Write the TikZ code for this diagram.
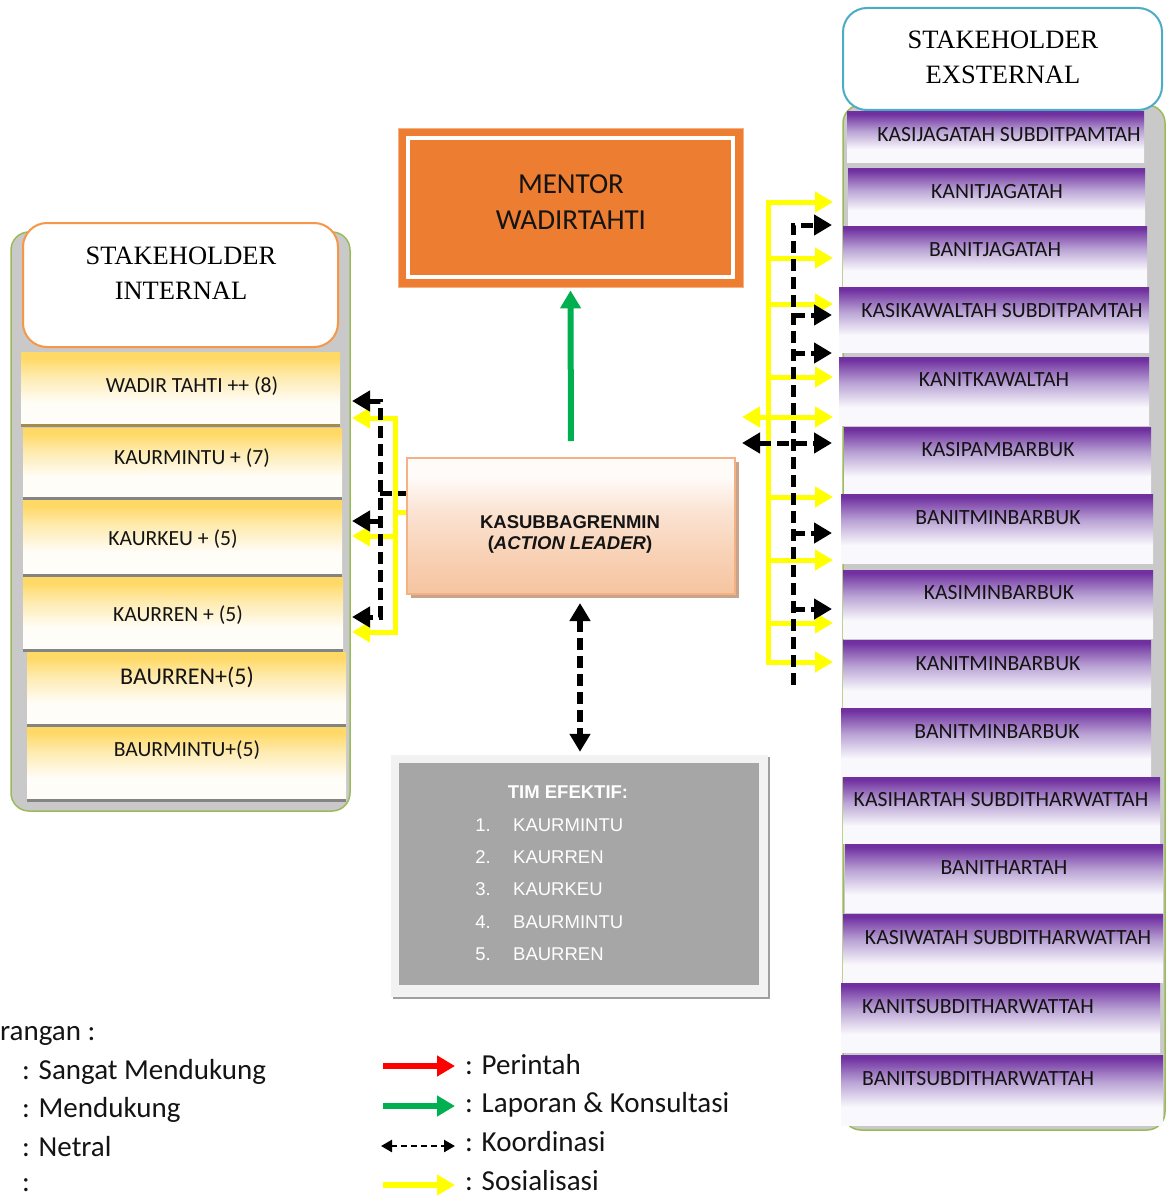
\documentclass[tikz,border=0pt]{standalone}
\usepackage{fontspec}
\setmainfont{Carlito}
\newfontfamily\serifhd{Liberation Serif}
\newfontfamily\arialf{Liberation Sans}
\usetikzlibrary{arrows.meta,fit,shadows}

\definecolor{panelgray}{HTML}{C9C9C9}
\definecolor{panelgreen}{HTML}{9BBB59}
\definecolor{hdorange}{HTML}{F79646}
\definecolor{hdblue}{HTML}{4BACC6}
\definecolor{goldtop}{HTML}{FFD966}
\definecolor{goldmid}{HTML}{FEEBB0}
\definecolor{goldbot}{HTML}{FFFDF8}
\definecolor{purtop}{HTML}{7030A0}
\definecolor{purmid}{HTML}{B9A2D4}
\definecolor{purbot}{HTML}{F9F8FC}
\definecolor{mentorc}{HTML}{ED7D31}
\definecolor{peachbot}{HTML}{F6C4A0}
\definecolor{peachlow}{HTML}{F8D2B6}
\definecolor{peachmid}{HTML}{FBE4D4}
\definecolor{peachtop}{HTML}{FFFBF9}
\definecolor{peachline}{HTML}{F4B183}
\definecolor{peachshadow}{HTML}{C9A48C}
\definecolor{timgray}{HTML}{A6A6A6}
\definecolor{timframe}{HTML}{F2F2F2}
\definecolor{arrgreen}{HTML}{00B050}
\definecolor{arryellow}{HTML}{FFFF00}
\definecolor{arrred}{HTML}{FF0000}
\definecolor{sepgray}{HTML}{848484}
\definecolor{sepbrown}{HTML}{A68B4A}
\definecolor{lbltext}{HTML}{141414}

\pgfdeclareverticalshading{goldfade}{100bp}{color(0bp)=(goldbot); color(25bp)=(goldbot); color(40bp)=(goldbot); color(58bp)=(goldmid); color(71bp)=(goldtop); color(100bp)=(goldtop)}
\pgfdeclareverticalshading{purplefade}{100bp}{color(0bp)=(purbot); color(25bp)=(purbot); color(38bp)=(purbot); color(56bp)=(purmid); color(73bp)=(purtop); color(100bp)=(purtop)}
\pgfdeclareverticalshading{peachfade}{100bp}{color(0bp)=(peachbot); color(25bp)=(peachbot); color(40bp)=(peachlow); color(56bp)=(peachmid); color(68bp)=(peachtop); color(100bp)=(peachtop)}

\begin{document}
\begin{tikzpicture}[x=1pt,y=-1pt,
  >={Triangle[length=18pt,width=20pt]},
  panelbox/.style={draw=panelgreen, fill=panelgray, line width=1.5pt, rounded corners=18pt, inner sep=0pt},
  hdbox/.style={fill=white, line width=2pt, rounded corners=24pt, inner sep=0pt},
  hdtext/.style={font=\serifhd\fontsize{26.5}{34.5}\selectfont, align=center, inner sep=0pt},
  goldbox/.style={shade, shading=goldfade, inner sep=0pt, draw=none},
  purbox/.style={shade, shading=purplefade, inner sep=0pt, draw=none},
  boxlbl/.style={inner sep=0pt, text=lbltext},
  yline/.style={draw=arryellow, line width=5pt},
  kline/.style={draw=black, line width=5pt, dash pattern=on 12pt off 6pt},
  legtxt/.style={font=\fontsize{29}{34}\selectfont, anchor=west, inner sep=0pt, text height=18.3pt, text depth=0pt, text=lbltext},
  timtxt/.style={font=\arialf\fontsize{18.5}{22}\selectfont, inner sep=0pt, text=white, text height=12.7pt, text depth=0pt}
]
\useasboundingbox (0,0) rectangle (1172,1196);
\fill[white] (0,0) rectangle (1172,1196);

% ---------------- left panel (internal) ----------------
\node[panelbox, fit={(11,232) (350,811)}] (LP) {};
\node[hdbox, draw=hdorange, fit={(23,223) (338,347)}] (LH) {};
\node[hdtext] (LHt) at (181,273) {STAKEHOLDER\\INTERNAL};

\foreach \n/\xa/\ya/\xb/\yb/\tx/\ty/\sz/\sepc/\lbl in {
  1/21/352/340/425/192/386/21.6/sepbrown/{WADIR TAHTI ++ (8)},
  2/23/428/342/498/192/458/21.6/sepgray/{KAURMINTU + (7)},
  3/23/500/342/575/173/539/21.6/sepgray/{KAURKEU + (5)},
  4/23/577/343/650/178/615/21.6/sepgray/{KAURREN + (5)},
  5/27/652/346/725/187/677/24/sepgray/{BAURREN+(5)},
  6/27/727/346/800/187/750/21.6/sepgray/{BAURMINTU+(5)}}
{
  \node[goldbox, fit={(\xa,\ya) (\xb,\yb)}] (L\n) {};
  \draw[line width=3pt, \sepc] (L\n.south west) -- (L\n.south east);
  \node[boxlbl, font=\fontsize{\sz}{\sz}\selectfont, text height={0.632*\sz}, text depth=0pt] (L\n-t) at (\tx,\ty) {\lbl};
}

% ---------------- right panel (external) ----------------
\node[panelbox, fit={(843,105) (1165,1130)}] (RP) {};
\node[hdbox, draw=hdblue, fit={(843,8) (1162,110)}] (RH) {};
\node[hdtext] (RHt) at (1003,57.5) {STAKEHOLDER\\EXSTERNAL};

\foreach \n/\xa/\ya/\xb/\yb/\tx/\ty/\an/\lbl in {
  1/847/112/1144/162/1009/135/center/{KASIJAGATAH SUBDITPAMTAH},
  2/848/168/1145/225/997/192/center/{KANITJAGATAH},
  3/843/226/1147/286/995/250/center/{BANITJAGATAH},
  4/839/287/1149/352/1002/311/center/{KASIKAWALTAH SUBDITPAMTAH},
  5/839/357/1149/425/994/380/center/{KANITKAWALTAH},
  6/844/427/1151/494/998/450/center/{KASIPAMBARBUK},
  7/841/494/1153/563/998/518/center/{BANITMINBARBUK},
  8/843/570/1153/638/999/593/center/{KASIMINBARBUK},
  9/843/640/1151/708/998/664/center/{KANITMINBARBUK},
  10/841/708/1151/776/997/732/center/{BANITMINBARBUK},
  11/843/777/1160/843/1001/800/center/{KASIHARTAH SUBDITHARWATTAH},
  12/845/844/1163/912/1004/868/center/{BANITHARTAH},
  13/843/914/1163/982/1008/938/center/{KASIWATAH SUBDITHARWATTAH},
  14/841/983/1160/1052/862/1007/west/{KANITSUBDITHARWATTAH},
  15/841/1055/1163/1125/862/1079/west/{BANITSUBDITHARWATTAH}}
{
  \node[purbox, fit={(\xa,\ya) (\xb,\yb)}] (R\n) {};
  \node[boxlbl, anchor=\an, font=\fontsize{21.7}{21.7}\selectfont, text height=13.7pt, text depth=0pt] (R\n-t) at (\tx,\ty) {\lbl};
}

% ---------------- mentor ----------------
\node[fill=mentorc, draw=peachline, line width=0.8pt, inner sep=0pt, fit={(398,128) (743,287)}] (M0) {};
\node[fill=mentorc, draw=white, line width=3.5pt, inner sep=0pt, fit={(408,138) (733,277)}] (M) {};
\node[font=\fontsize{29}{36}\selectfont, align=center, inner sep=0pt, text=lbltext] (Mt) at (571,202) {MENTOR\\WADIRTAHTI};

% ---------------- action leader ----------------
\node[shade, shading=peachfade, draw=peachline, line width=2pt, inner sep=0pt,
      fit={(407,458) (735,594)},
      drop shadow={shadow xshift=4pt, shadow yshift=-4pt, fill=peachshadow, opacity=1}] (A) {};
\node[font=\arialf\bfseries\fontsize{18.5}{21}\selectfont, align=center, inner sep=0pt, text=lbltext] (At) at (570,534.5) {KASUBBAGRENMIN\\(\textit{ACTION LEADER})};

% ---------------- tim efektif ----------------
\node[fill=timframe, inner sep=0pt, fit={(391,755) (768,997)},
      drop shadow={shadow xshift=2pt, shadow yshift=-2pt, fill=gray!75, opacity=1}] (T) {};
\node[fill=timgray, inner sep=0pt, fit={(399,763) (759,985)}] (Ti) {};
\node[timtxt, font=\arialf\bfseries\fontsize{18.5}{22}\selectfont] (Tt) at (568,792) {TIM EFEKTIF:};
\foreach \k/\yy/\item in {1/825/KAURMINTU, 2/857/KAURREN, 3/889/KAURKEU, 4/922/BAURMINTU, 5/954/BAURREN}
{
  \node[timtxt, anchor=east] (Tn\k) at (491,\yy) {\k.};
  \node[timtxt, anchor=west] (Ti\k) at (513,\yy) {\item};
}

% ---------------- connectors: center ----------------
\draw[draw=arrgreen, line width=6pt, ->, shorten <=16pt, shorten >=3pt] (A.north) -- (M0.south);
\coordinate (kcx) at (580,0);
\draw[kline, line width=6pt, <->, shorten <=8pt, shorten >=3pt] (A.south -| kcx) -- (T.north -| kcx);

% ---------------- connectors: left ----------------
\coordinate (ylTop) at (395,418);
\coordinate (ylMid) at (395,536);
\coordinate (ylBot) at (395,632);
\coordinate (ylCon) at (395,512);
\coordinate (ylTipTop) at (352,418);
\coordinate (ylTipMid) at (352,536);
\coordinate (ylTipBot) at (352,632);
\draw[yline,<->] (ylTipTop) -- (ylTop) -- (ylBot) -- (ylTipBot);
\draw[yline,->] (ylMid) -- (ylTipMid);
\draw[yline] (ylCon) -- (ylCon -| A.west);

\coordinate (klTop) at (380,401);
\coordinate (klMid) at (380,521);
\coordinate (klBot) at (380,617);
\coordinate (klCon) at (380,493);
\coordinate (klTipTop) at (352,401);
\coordinate (klTipMid) at (352,521);
\coordinate (klTipBot) at (352,617);
\draw[kline,<->] (klTipTop) -- (klTop) -- (klBot) -- (klTipBot);
\draw[kline,->] (klMid) -- (klTipMid);
\draw[kline] (klCon) -- (klCon -| A.west);

% ---------------- connectors: right ----------------
\coordinate (yrTop) at (768,202);
\coordinate (yrBot) at (768,662);
\coordinate (yrTipTop) at (833,202);
\coordinate (yrTipBot) at (833,662);
\draw[yline,<->] (yrTipTop) -- (yrTop) -- (yrBot) -- (yrTipBot);
\foreach \i/\yy in {1/258, 2/304, 3/377, 4/497, 5/560, 6/623}
{
  \coordinate (yrs\i) at (768,\yy);
  \coordinate (yre\i) at (833,\yy);
  \draw[yline,->] (yrs\i) -- (yre\i);
}
\coordinate (yrLeft) at (742,417);
\coordinate (yrRight) at (833,417);
\draw[yline,<->] (yrLeft) -- (yrRight);

\coordinate (krBot) at (793,685);
\coordinate (krTop) at (793,225);
\coordinate (krTipTop) at (832,225);
\draw[kline,->] (krBot) -- (krTop) -- (krTipTop);
\foreach \i/\yy in {1/315, 2/353, 3/533, 4/609}
{
  \coordinate (krs\i) at (793,\yy);
  \coordinate (kre\i) at (832,\yy);
  \draw[kline,->] (krs\i) -- (kre\i);
}
\coordinate (krLeft) at (742,443);
\coordinate (krRight) at (832,443);
\draw[kline,<->] (krLeft) -- (krRight);

% ---------------- legend ----------------
\node[legtxt] (lg0) at (0,1031) {rangan :};
\node[legtxt] (lg1) at (22,1070) {: Sangat Mendukung};
\node[legtxt] (lg2) at (22,1108) {: Mendukung};
\node[legtxt] (lg3) at (22,1147) {: Netral};
\node[legtxt] (lg4) at (22,1182) {:};

\coordinate (lrA) at (383,1066);
\coordinate (lrB) at (455,1066);
\coordinate (lgA) at (383,1106);
\coordinate (lgB) at (455,1106);
\coordinate (lkA) at (381,1146);
\coordinate (lkB) at (455,1146);
\coordinate (lyA) at (383,1185);
\coordinate (lyB) at (455,1185);
\draw[draw=arrred, line width=6pt, ->] (lrA) -- (lrB);
\draw[draw=arrgreen, line width=6pt, ->] (lgA) -- (lgB);
\draw[draw=black, line width=2.5pt, dash pattern=on 6pt off 4pt, {Triangle[length=11pt,width=12pt]}-{Triangle[length=11pt,width=12pt]}] (lkA) -- (lkB);
\draw[draw=arryellow, line width=6pt, ->] (lyA) -- (lyB);

\node[legtxt] (lp1) at (465,1065) {: Perintah};
\node[legtxt] (lp2) at (465,1103) {: Laporan \& Konsultasi};
\node[legtxt] (lp3) at (465,1142) {: Koordinasi};
\node[legtxt] (lp4) at (465,1181) {: Sosialisasi};
\end{tikzpicture}
\end{document}
